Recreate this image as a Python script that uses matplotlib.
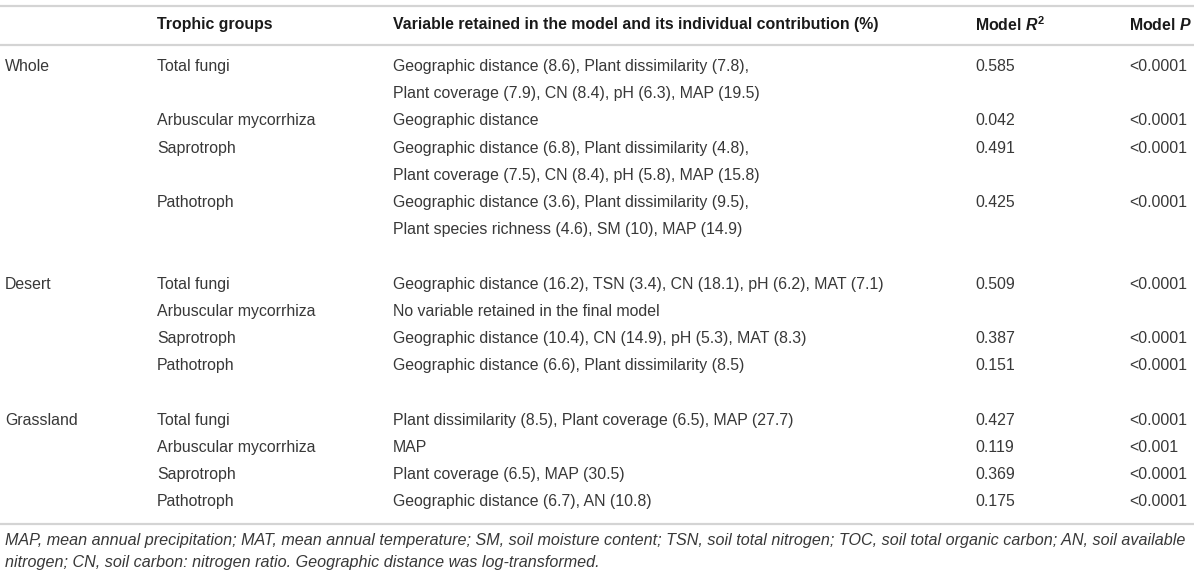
import matplotlib.pyplot as plt

plt.rcParams['font.family'] = ['Liberation Sans', 'DejaVu Sans']
plt.rcParams['mathtext.fontset'] = 'custom'
plt.rcParams['mathtext.rm'] = 'Liberation Sans:bold'
plt.rcParams['mathtext.it'] = 'Liberation Sans:italic:bold'

# table content
headers = ['Trophic groups',
           'Variable retained in the model and its individual contribution (%)',
           'Model $R^2$', 'Model $P$']
habitats = ['Whole', 'Desert', 'Grassland']
groups = ['Total fungi', 'Arbuscular mycorrhiza', 'Saprotroph', 'Pathotroph']

variables_whole = [
    ['Geographic distance (8.6), Plant dissimilarity (7.8),',
     'Plant coverage (7.9), CN (8.4), pH (6.3), MAP (19.5)'],
    ['Geographic distance'],
    ['Geographic distance (6.8), Plant dissimilarity (4.8),',
     'Plant coverage (7.5), CN (8.4), pH (5.8), MAP (15.8)'],
    ['Geographic distance (3.6), Plant dissimilarity (9.5),',
     'Plant species richness (4.6), SM (10), MAP (14.9)'],
]
variables_desert = [
    ['Geographic distance (16.2), TSN (3.4), CN (18.1), pH (6.2), MAT (7.1)'],
    ['No variable retained in the final model'],
    ['Geographic distance (10.4), CN (14.9), pH (5.3), MAT (8.3)'],
    ['Geographic distance (6.6), Plant dissimilarity (8.5)'],
]
variables_grass = [
    ['Plant dissimilarity (8.5), Plant coverage (6.5), MAP (27.7)'],
    ['MAP'],
    ['Plant coverage (6.5), MAP (30.5)'],
    ['Geographic distance (6.7), AN (10.8)'],
]
variables = [variables_whole, variables_desert, variables_grass]

r2_whole = ['0.585', '0.042', '0.491', '0.425']
r2_desert = ['0.509', '', '0.387', '0.151']
r2_grass = ['0.427', '0.119', '0.369', '0.175']
r2 = [r2_whole, r2_desert, r2_grass]

p_whole = ['<0.0001', '<0.0001', '<0.0001', '<0.0001']
p_desert = ['<0.0001', '', '<0.0001', '<0.0001']
p_grass = ['<0.0001', '<0.001', '<0.0001', '<0.0001']
p_vals = [p_whole, p_desert, p_grass]

footnote = ['MAP, mean annual precipitation; MAT, mean annual temperature; SM, soil moisture content; '
            'TSN, soil total nitrogen; TOC, soil total organic carbon; AN, soil available',
            'nitrogen; CN, soil carbon: nitrogen ratio. Geographic distance was log-transformed.']

# layout (pixel coords)
W, H = 1200, 577
col_x = [5, 157, 393, 975, 1129]
row0 = 66.5
step = 27.2
fs = 11.4
body_col = '#383838'
rule_col = '#d4d4d4'

fig = plt.figure(figsize=(W / 100, H / 100), dpi=100)
ax = fig.add_axes([0, 0, 1, 1])
ax.set_xlim(0, W)
ax.set_ylim(H, 0)
ax.axis('off')

# rules
for yl in [5.5, 45, 524]:
    ax.plot([0, 1194], [yl, yl], color=rule_col, lw=1.6, solid_capstyle='butt')

# header
for x, h in zip(col_x[1:], headers):
    ax.text(x, 25, h, fontsize=fs, fontweight='bold', color='#1a1a1a', va='center')

# body
line = 0
for hab, vlist, rlist, plist in zip(habitats, variables, r2, p_vals):
    ax.text(col_x[0], row0 + line * step, hab, fontsize=fs, color=body_col, va='center')
    for grp, v, r, p in zip(groups, vlist, rlist, plist):
        y = row0 + line * step
        ax.text(col_x[1], y, grp, fontsize=fs, color=body_col, va='center')
        ax.text(col_x[3], y, r, fontsize=fs, color=body_col, va='center')
        ax.text(col_x[4], y, p, fontsize=fs, color=body_col, va='center')
        for k, s in enumerate(v):
            ax.text(col_x[2], y + k * step, s, fontsize=fs, color=body_col, va='center')
        line += len(v)
    line += 1

# footnote
for k, s in enumerate(footnote):
    ax.text(col_x[0], 540 + k * 23, s, fontsize=11.65, style='italic', color=body_col, va='center')

fig.savefig('out.png', dpi=100)
